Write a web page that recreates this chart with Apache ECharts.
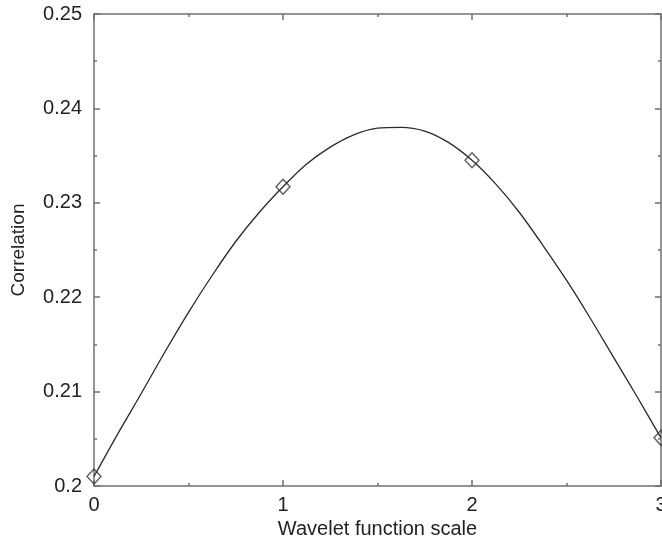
<!DOCTYPE html>
<html>
<head>
<meta charset="utf-8">
<script src="https://cdn.jsdelivr.net/npm/echarts@6/dist/echarts.min.js"></script>
<style>
html,body{margin:0;padding:0;background:#fff;}
#chart{width:662px;height:542px;}
</style>
</head>
<body>
<div id="chart"></div>
<script>
// Measured points (diamond markers)
var scaleX = [0, 1, 2, 3];
var correlation = [0.2010, 0.2317, 0.2345, 0.2051];

// Fitted curve at regular steps
var curveX = [0, 0.125, 0.25, 0.375, 0.5, 0.625, 0.75, 0.875, 1, 1.125, 1.25, 1.375, 1.5,
              1.625, 1.75, 1.875, 2, 2.125, 2.25, 2.375, 2.5, 2.625, 2.75, 2.875, 3];
var curveY = [0.2010, 0.2055, 0.2098, 0.2142, 0.2184, 0.2223, 0.2259, 0.2290, 0.2317, 0.2341, 0.2359, 0.2372, 0.2379,
              0.2380, 0.2376, 0.2364, 0.2345, 0.2320, 0.2290, 0.2255, 0.2218, 0.2178, 0.2136, 0.2094, 0.2051];

var xTitle = 'Wavelet function scale';
var yTitle = 'Correlation';

var axisColor = '#707070';
var textColor = '#222';
var fontFam = '"Liberation Sans", Arial, Helvetica, sans-serif';

function pairs(xs, ys) { return xs.map(function (x, i) { return [x, ys[i]]; }); }

var chart = echarts.init(document.getElementById('chart'), null, {renderer: 'canvas'});
var tickCommon = {show: true, inside: true, length: 6, lineStyle: {color: axisColor, width: 1.5}};
var minorCommon = {show: true, splitNumber: 2, length: 3, lineStyle: {color: axisColor, width: 1.5}};
var lineCommon = {show: true, onZero: false, lineStyle: {color: axisColor, width: 1.5}};

chart.setOption({
  animation: false,
  backgroundColor: '#fff',
  grid: {left: 94, right: 1, top: 14, bottom: 56, containLabel: false, outerBoundsMode: 'none'},
  xAxis: [{
    type: 'value', min: 0, max: 3, interval: 1, position: 'bottom',
    axisLine: lineCommon, axisTick: tickCommon, minorTick: minorCommon,
    splitLine: {show: false},
    axisLabel: {color: textColor, fontSize: 20, fontFamily: fontFam, margin: 9, showMaxLabel: true},
    name: xTitle, nameLocation: 'middle', nameGap: 24,
    nameTextStyle: {color: textColor, fontSize: 20, fontFamily: fontFam}
  }, {
    type: 'value', min: 0, max: 3, interval: 1, position: 'top',
    axisLine: lineCommon, axisTick: tickCommon, minorTick: minorCommon,
    splitLine: {show: false}, axisLabel: {show: false}
  }],
  yAxis: [{
    type: 'value', min: 0.2, max: 0.25, interval: 0.01, position: 'left',
    axisLine: lineCommon, axisTick: tickCommon, minorTick: minorCommon,
    splitLine: {show: false},
    axisLabel: {color: textColor, fontSize: 20, fontFamily: fontFam, margin: 12},
    name: yTitle, nameLocation: 'middle', nameGap: 66,
    nameTextStyle: {color: textColor, fontSize: 19, fontFamily: fontFam}
  }, {
    type: 'value', min: 0.2, max: 0.25, interval: 0.01, position: 'right',
    axisLine: lineCommon, axisTick: tickCommon, minorTick: minorCommon,
    splitLine: {show: false}, axisLabel: {show: false}
  }],
  series: [{
    type: 'line',
    data: pairs(curveX, curveY),
    smooth: 0.3,
    symbol: 'none',
    clip: false,
    lineStyle: {color: '#2a2a2a', width: 1.3}
  }, {
    type: 'scatter',
    data: pairs(scaleX, correlation),
    symbol: 'diamond',
    symbolSize: [14, 15],
    clip: false,
    itemStyle: {color: 'rgba(255,255,255,0)', borderColor: '#333', borderWidth: 1.4},
    z: 5
  }]
});
</script>
</body>
</html>
